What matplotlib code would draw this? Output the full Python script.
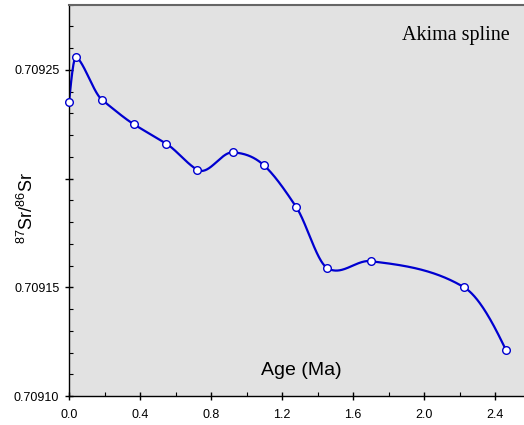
import numpy as np
import matplotlib
matplotlib.use("Agg")
import matplotlib.pyplot as plt
from matplotlib.ticker import MultipleLocator

plt.rcParams["mathtext.fontset"] = "custom"
plt.rcParams["mathtext.rm"] = "Liberation Sans"
plt.rcParams["mathtext.it"] = "Liberation Sans:italic"
plt.rcParams["mathtext.bf"] = "Liberation Sans:bold"

# Data (age in Ma, 87Sr/86Sr)
age = [0.0, 0.041, 0.188, 0.364, 0.548, 0.723, 0.922, 1.099, 1.279, 1.452, 1.699, 2.225, 2.462]
sr = [0.709235, 0.709256, 0.709236, 0.709225, 0.709216, 0.709204, 0.709212,
      0.709206, 0.709187, 0.709159, 0.709162, 0.709150, 0.709121]
ytick_vals = [0.70910, 0.70915, 0.70920, 0.70925]
ytick_labels = ["0.70910", "0.70915", "", "0.70925"]
xtick_vals = [0.0, 0.4, 0.8, 1.2, 1.6, 2.0, 2.4]
xtick_labels = ["0.0", "0.4", "0.8", "1.2", "1.6", "2.0", "2.4"]


def akima(x, y, xs):
    x = np.asarray(x, float)
    y = np.asarray(y, float)
    n = len(x)
    m = np.diff(y) / np.diff(x)
    mm = np.empty(n + 3)
    mm[2:n + 1] = m
    mm[1] = 2 * mm[2] - mm[3]
    mm[0] = 2 * mm[1] - mm[2]
    mm[n + 1] = 2 * mm[n] - mm[n - 1]
    mm[n + 2] = 2 * mm[n + 1] - mm[n]
    dm = np.abs(np.diff(mm))
    f1 = dm[2:2 + n]
    f2 = dm[0:n]
    f12 = f1 + f2
    eps = 1e-9 * np.max(np.abs(mm))
    t = np.where(f12 > eps,
                 (f1 * mm[1:n + 1] + f2 * mm[2:n + 2]) / np.where(f12 > eps, f12, 1),
                 0.5 * (mm[1:n + 1] + mm[2:n + 2]))
    idx = np.clip(np.searchsorted(x, xs) - 1, 0, n - 2)
    h = x[idx + 1] - x[idx]
    s = (xs - x[idx]) / h
    h00 = 2 * s**3 - 3 * s**2 + 1
    h10 = s**3 - 2 * s**2 + s
    h01 = -2 * s**3 + 3 * s**2
    h11 = s**3 - s**2
    return h00 * y[idx] + h10 * h * t[idx] + h01 * y[idx + 1] + h11 * h * t[idx + 1]


fig = plt.figure(figsize=(5.24, 4.25), dpi=100)
ax = fig.add_axes([0.1317, 0.0682, 0.8683, 0.9212])
ax.set_facecolor("#e2e2e2")

xs = np.linspace(age[0], age[-1], 800)
ax.plot(xs, akima(age, sr, xs), color="#0000d0", lw=1.6, zorder=2)
ax.plot(age, sr, "o", ms=5.5, mfc="white", mec="#0000d0", mew=1.0,
        zorder=3, clip_on=False)

ax.set_xlim(0, 2.563)
ax.set_ylim(0.70910, 0.70928)

ax.set_xticks(xtick_vals, xtick_labels)
ax.set_yticks(ytick_vals, ytick_labels)
ax.xaxis.set_minor_locator(MultipleLocator(0.2))
ax.yaxis.set_minor_locator(MultipleLocator(0.00001))

for side in ["left", "bottom"]:
    ax.spines[side].set_color("black")
    ax.spines[side].set_linewidth(1.0)
ax.spines["top"].set_color("#666666")
ax.spines["top"].set_linewidth(1.5)
ax.spines["right"].set_visible(False)

lab_font = dict(family=["Liberation Sans", "DejaVu Sans"])
ax.tick_params(axis="both", which="major", direction="inout", length=6,
               width=1.0, labelsize=9, colors="black")
ax.tick_params(axis="both", which="minor", direction="in", length=3, width=0.8)
ax.tick_params(axis="x", which="major", pad=6)
ax.tick_params(axis="y", which="major", pad=4)
for lbl in ax.get_xticklabels() + ax.get_yticklabels():
    lbl.set_family(["Liberation Sans", "DejaVu Sans"])

ax.set_xlabel("Age (Ma)", fontsize=14, **lab_font)
ax.xaxis.set_label_coords(0.51, 0.088)
ax.set_ylabel(r"$^{87}$Sr/$^{86}$Sr", fontsize=13, **lab_font)
ax.yaxis.set_label_coords(-0.07, 0.48)

ax.text(0.968, 0.922, "Akima spline", transform=ax.transAxes, ha="right",
        va="center", fontsize=14.5, family=["Liberation Serif", "DejaVu Serif"])

fig.savefig("out.png", dpi=100)
